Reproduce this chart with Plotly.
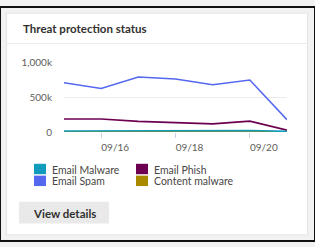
import plotly.graph_objects as go

W, H = 315, 247

dates = ["2023-09-15", "2023-09-16", "2023-09-17", "2023-09-18",
         "2023-09-19", "2023-09-20", "2023-09-21"]
email_malware = [16000, 16000, 14000, 12000, 12000, 22000, 10000]
email_spam = [712000, 630000, 795000, 767000, 685000, 753000, 178000]
email_phish = [188000, 188000, 155000, 137000, 119000, 158000, 27000]
content_malware = [3000, 3000, 3000, 3000, 3000, 4000, 3000]

series_names = ["Email Malware", "Email Spam", "Email Phish", "Content malware"]
series_values = [email_malware, email_spam, email_phish, content_malware]
series_colors = ["#0f9cbc", "#5468ef", "#6e0052", "#a88900"]
draw_order = [1, 2, 3, 0]

tick_dates = ["2023-09-16", "2023-09-18", "2023-09-20"]
tick_labels = ["09/16", "09/18", "09/20"]
y_ticks = [0, 500000, 1000000]
y_tick_labels = ["0", "500k", "1,000k"]

FONT = "Lato, Segoe UI, Open Sans, sans-serif"

fig = go.Figure()
for i in draw_order:
    fig.add_trace(go.Scatter(
        x=dates, y=series_values[i], mode="lines", name=series_names[i],
        line=dict(color=series_colors[i], width=1.6), showlegend=False,
        hoverinfo="skip"))


def px(x):
    return x / W


def py(y):
    return 1 - y / H


shapes = [
    dict(type="rect", xref="paper", yref="paper", x0=0, x1=1, y0=0, y1=1,
         line=dict(color="#111111", width=2), fillcolor="#f2f2f2", layer="below"),
    dict(type="rect", xref="paper", yref="paper", x0=px(6.5), x1=px(307.5),
         y0=py(240.5), y1=py(6.5),
         line=dict(color="#e4e4e4", width=1), fillcolor="#ffffff", layer="below"),
    dict(type="line", xref="paper", yref="paper", x0=px(7), x1=px(307),
         y0=py(38.5), y1=py(38.5), line=dict(color="#ececec", width=1), layer="below"),
    dict(type="rect", xref="paper", yref="paper", x0=px(19), x1=px(109),
         y0=py(228.5), y1=py(205.5), line=dict(width=0), fillcolor="#e9e9e9", layer="below"),
]

annotations = [
    dict(text="<b>Threat protection status</b>", xref="paper", yref="paper",
         x=px(21), y=py(23), xanchor="left", yanchor="middle", showarrow=False,
         font=dict(family=FONT, size=11.5, color="#323130")),
    dict(text="<b>View details</b>", xref="paper", yref="paper",
         x=px(64), y=py(217.5), xanchor="center", yanchor="middle", showarrow=False,
         font=dict(family=FONT, size=11.5, color="#323130")),
]

legend_pos = [(34, 171), (34, 183.5), (136, 171), (136, 183.5)]
legend_items = [0, 1, 2, 3]
for (lx, ly), i in zip(legend_pos, legend_items):
    shapes.append(dict(type="rect", xref="paper", yref="paper",
                       x0=px(lx), x1=px(lx + 12), y0=py(ly + 5.5), y1=py(ly - 5.5),
                       line=dict(width=0), fillcolor=series_colors[i]))
    annotations.append(dict(text=series_names[i], xref="paper", yref="paper",
                            x=px(lx + 15.5), y=py(ly), xanchor="left", yanchor="middle",
                            showarrow=False, height=11,
                            font=dict(family=FONT, size=10.5, color="#484644")))

fig.update_layout(
    width=W, height=H,
    margin=dict(l=0, r=0, t=0, b=0),
    paper_bgcolor="#f2f2f2",
    plot_bgcolor="rgba(0,0,0,0)",
    showlegend=False,
    shapes=shapes,
    annotations=annotations,
    xaxis=dict(
        domain=[px(64), px(287)],
        range=[dates[0], dates[-1]],
        type="date",
        tickvals=tick_dates, ticktext=tick_labels,
        ticks="outside", ticklen=5, tickcolor="#c6d2e8", tickwidth=1,
        ticklabelshift=14, ticklabelstandoff=1,
        showgrid=False, zeroline=False, showline=False,
        tickfont=dict(family=FONT, size=10, color="#605e5c"),
        fixedrange=True,
    ),
    yaxis=dict(
        domain=[py(132), py(59)],
        range=[0, 1000000],
        tickvals=y_ticks, ticktext=y_tick_labels,
        showgrid=True, gridcolor="#ececec", gridwidth=1,
        zeroline=False, showline=False,
        ticks="", ticklabelstandoff=11,
        tickfont=dict(family=FONT, size=10, color="#605e5c"),
        fixedrange=True,
    ),
)

fig.write_html("out.html", config={"displayModeBar": False})
